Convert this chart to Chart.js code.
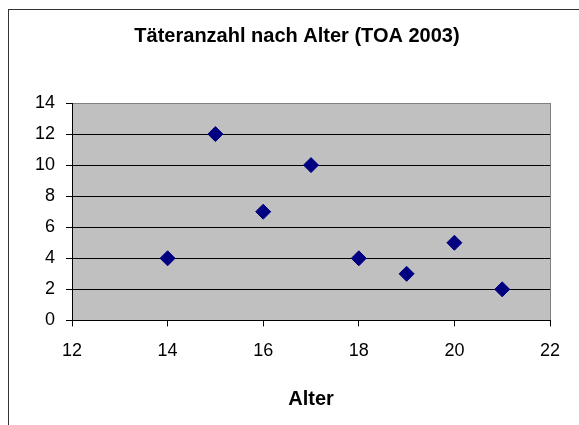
<!DOCTYPE html>
<html>
<head>
<meta charset="utf-8">
<script src="https://cdn.jsdelivr.net/npm/chart.js@4/dist/chart.umd.min.js"></script>
<style>
  html, body { margin: 0; padding: 0; background: #fff; overflow: hidden; }
  #wrap { position: relative; width: 579px; height: 425px; }
  #frame {
    position: absolute; left: 8px; top: 9px; width: 620px; height: 500px;
    border-left: 1px solid #333; border-top: 1px solid #333;
  }
  #chart { position: absolute; left: 0; top: 0; }
</style>
</head>
<body>
<div id="wrap">
  <div id="frame"></div>
  <canvas id="chart" width="579" height="425"></canvas>
</div>
<script>
// =====================================
// DATA
// =====================================

const alter = [14, 15, 16, 17, 18, 19, 20, 21];
const taeter = [4, 12, 7, 10, 4, 3, 5, 2];

const chartTitle = 'Täteranzahl nach Alter (TOA 2003)';
const xTitle = 'Alter';

const xMin = 12, xMax = 22, xStep = 2;
const yMin = 0, yMax = 14, yStep = 2;

const points = alter.map((a, i) => ({ x: a, y: taeter[i] }));


// =====================================
// PLOT BACKGROUND (EXCEL GRAY)
// =====================================

const plotBackground = {
    id: 'plotBackground',
    beforeDraw(chart) {
        const { ctx, chartArea: a } = chart;
        ctx.save();
        ctx.fillStyle = '#C0C0C0';
        ctx.fillRect(a.left, a.top, a.right - a.left, a.bottom - a.top);
        ctx.restore();
    }
};

Chart.defaults.font.family = '"Liberation Sans", Arial, sans-serif';
Chart.defaults.color = '#000';


// =====================================
// SCATTER CHART
// =====================================

new Chart(document.getElementById('chart'), {

    type: 'scatter',

    data: {
        datasets: [
            {
                label: 'Täter',
                data: points,
                pointStyle: 'rectRot',
                pointRadius: 7.5,
                pointHoverRadius: 7.5,
                backgroundColor: '#000080',
                borderColor: '#000080',
                borderWidth: 1
            }
        ]
    },

    options: {
        responsive: false,
        animation: false,
        events: [],

        layout: {
            padding: { left: 15, right: 0, top: 0, bottom: 0 }
        },

        plugins: {
            legend: { display: false },
            tooltip: { enabled: false },
            title: {
                display: true,
                text: chartTitle,
                color: '#000',
                font: { size: 20, weight: 'bold' },
                padding: { top: 24, bottom: 55 }
            }
        },

        scales: {
            x: {
                type: 'linear',
                min: xMin,
                max: xMax,
                ticks: {
                    stepSize: xStep,
                    color: '#000',
                    font: { size: 18 },
                    padding: 14,
                    maxRotation: 0
                },
                grid: {
                    drawOnChartArea: true,
                    color: ctx => (ctx.tick && ctx.tick.value === xMax) ? '#808080' : 'transparent',
                    tickColor: '#000',
                    tickLength: 6
                },
                border: { color: '#000', width: 1 },
                title: {
                    display: true,
                    text: xTitle,
                    color: '#000',
                    font: { size: 20, weight: 'bold' },
                    padding: { top: 11, bottom: 14 }
                }
            },

            y: {
                min: yMin,
                max: yMax,
                ticks: {
                    stepSize: yStep,
                    color: '#000',
                    font: { size: 18 },
                    padding: 11
                },
                grid: {
                    color: ctx => (ctx.tick && ctx.tick.value === yMax) ? '#808080' : '#000',
                    tickColor: '#000',
                    tickLength: 6
                },
                border: { color: '#000', width: 1 },
                afterFit(scale) {
                    scale.width = 57;
                }
            },

            // empty right margin, keeps the title centred over the whole frame
            yRight: {
                type: 'linear',
                position: 'right',
                display: true,
                min: yMin,
                max: yMax,
                ticks: { display: false },
                grid: { display: false },
                border: { display: false },
                afterFit(scale) {
                    scale.width = 29;
                }
            }
        }
    },

    plugins: [plotBackground]
});
</script>
</body>
</html>
